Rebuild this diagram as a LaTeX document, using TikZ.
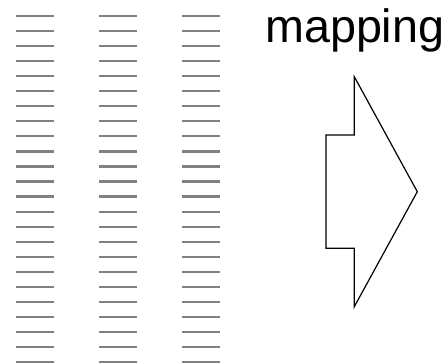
\documentclass[tikz,border=0pt]{standalone}
\usepackage{fontspec}
\setmainfont{Liberation Sans}
\usepackage{tikz}

\begin{document}
\begin{tikzpicture}[
  x=1pt, y=-1pt,
  row/.style={draw=black!50, line width=2.2pt},
  blockarr/.style={draw, line width=1.2pt, line join=miter},
  lbl/.style={anchor=base west, inner sep=0pt, font=\fontsize{46.7}{50}\selectfont},
]
  \useasboundingbox (0,0) rectangle (448,363);

  % Three columns of rows
  \foreach \cx in {16,99,182} {
    \foreach \k in {0,...,23} {
      \draw[row] (\cx,16+15.05*\k) -- ++(38,0);
    }
  }

  % Label
  \node[lbl] (map) at (265,42.7) {mapping};

  % Block arrow
  \draw[blockarr] (326,135) -- (354.3,135) -- (354.3,76.7) -- (417.3,191.7)
    -- (354.3,306.7) -- (354.3,248.3) -- (326,248.3) -- cycle;
\end{tikzpicture}
\end{document}
